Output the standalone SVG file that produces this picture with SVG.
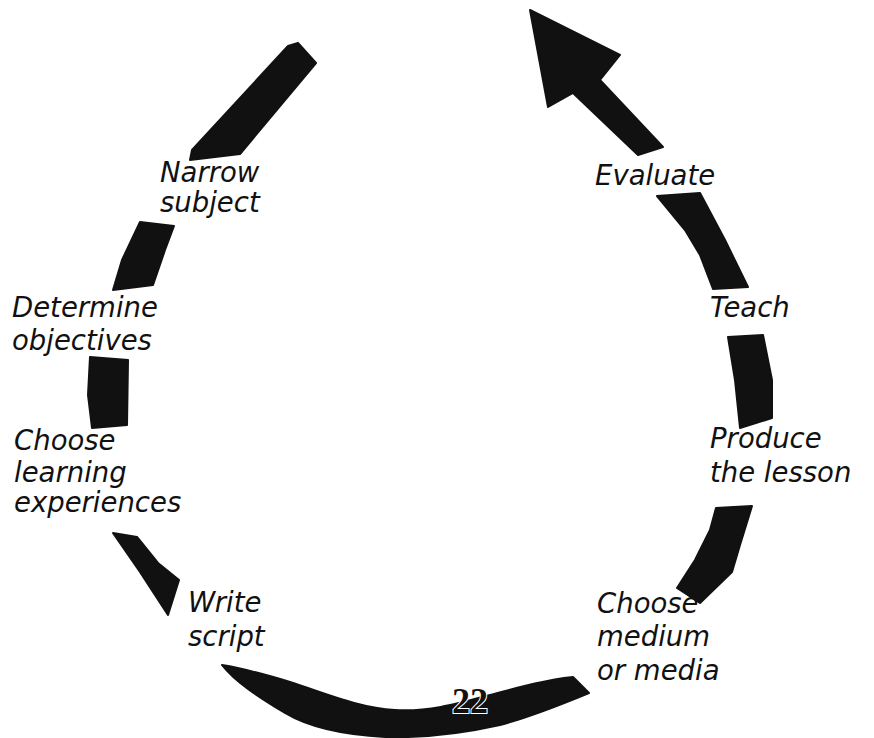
<svg xmlns="http://www.w3.org/2000/svg" width="874" height="738" viewBox="0 0 874 738">
<style>
.band{fill:#111;stroke:#111;stroke-width:2;stroke-linejoin:round}
.lbl{font-family:"DejaVu Sans","Liberation Sans",sans-serif;font-style:italic;font-size:27.5px;fill:#111}
.pg{font-family:"Liberation Serif",serif;font-weight:bold;font-size:36px;fill:#111;stroke:#fff;stroke-width:2;paint-order:stroke}
</style>
<rect width="874" height="738" fill="#fff"/>
<g id="connectors">
<path class="band" d="M288,46 L298,43 L316,63 L240,154 L190,160 L192,150 Z"/>
<path class="band" d="M140,222 L174,226 L165,250 L153,285 L113,290 L122,260 Z"/>
<path class="band" d="M90,357 L128,360 L127,425 L92,428 L88,395 Z"/>
<path class="band" d="M113,533 L137,537 L158,563 L179,580 L168,615 L140,572 Z"/>
<path class="band" d="M222,665 C240,668 257,672 290,682 C330,695 360,708 395,710 C430,712 460,703 490,695 C520,687 545,680 573,677 L589,693 C560,705 530,717 500,725 C460,734 420,738 385,737 C345,735 310,728 285,713 C260,698 235,682 222,665 Z"/>
<path class="band" d="M716,508 L752,506 L740,545 L732,572 L700,603 L677,588 L695,560 L710,530 Z"/>
<path class="band" d="M728,337 L763,335 L772,380 L772,418 L740,428 L735,380 Z"/>
<path class="band" d="M657,196 L700,193 L725,240 L748,287 L713,289 L700,255 L685,230 Z"/>
<path class="band" d="M530,10 L620,55 L600,80 L663,147 L638,155 L573,93 L548,107 Z"/>
</g>
<g id="narrow"><text class="lbl" x="160" y="182">Narrow</text><text class="lbl" x="160" y="212">subject</text></g>
<g id="determine"><text class="lbl" x="12" y="317">Determine</text><text class="lbl" x="12" y="350">objectives</text></g>
<g id="learning"><text class="lbl" x="14" y="450">Choose</text><text class="lbl" x="14" y="482">learning</text><text class="lbl" x="14" y="512">experiences</text></g>
<g id="write"><text class="lbl" x="188" y="612">Write</text><text class="lbl" x="188" y="646">script</text></g>
<g id="medium"><text class="lbl" x="597" y="613">Choose</text><text class="lbl" x="597" y="646">medium</text><text class="lbl" x="597" y="680">or media</text></g>
<g id="produce"><text class="lbl" x="710" y="448">Produce</text><text class="lbl" x="710" y="482">the lesson</text></g>
<g id="teach"><text class="lbl" x="710" y="317">Teach</text></g>
<g id="evaluate"><text class="lbl" x="595" y="185">Evaluate</text></g>
<text class="pg" x="452" y="713">22</text>
</svg>
